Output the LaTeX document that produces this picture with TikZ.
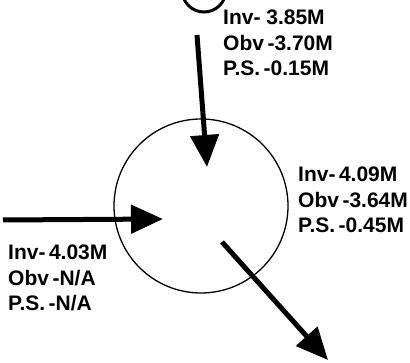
\documentclass[tikz,border=0pt]{standalone}
\usepackage{fontspec}
\setmainfont{Liberation Sans}
\usetikzlibrary{arrows.meta}

\begin{document}
\begin{tikzpicture}[x=1pt,y=-1pt,line cap=butt,
	flow/.style={-{Triangle[length=32pt,width=28pt]},line width=5pt},
	figs/.style={font=\fontsize{21}{25.5}\selectfont\bfseries,align=left,anchor=north west,inner sep=0pt}]
	% Radius of the hub circle
	\newdimen\R
	\R=87pt
	\useasboundingbox (0,0) rectangle (410,363);
	\clip (0,0) rectangle (410,363);
	\node[circle,draw,line width=1.3pt,minimum size=2*\R,inner sep=0pt] (hub) at (201,206) {};
	\node[circle,draw,line width=3pt,minimum size=44pt,inner sep=0pt] (src) at (204,-10) {};
	% Figures next to each flow
	\node[figs] (srcfig) at (223,10) {Inv- 3.85M\\Obv\,-3.70M\\P.S.\,-0.15M};
	\node[figs] (hubfig) at (298,167) {Inv-\,4.09M\\Obv\,-3.64M\\P.S.\,-0.45M};
	\node[figs] (leftfig) at (8,245) {Inv-\,4.03M\\Obv\,-N/A\\P.S.\,-N/A};
	% Flows in and out
	\coordinate (topin) at (197,35);
	\coordinate (topend) at (207,167);
	\coordinate (leftin) at (3,220);
	\coordinate (leftend) at (163,219);
	\coordinate (outstart) at (222,242);
	\coordinate (outend) at (328,360);
	\draw[flow] (topin) -- (topend);
	\draw[flow] (leftin) -- (leftend);
	\draw[flow] (outstart) -- (outend);
\end{tikzpicture}
\end{document}
